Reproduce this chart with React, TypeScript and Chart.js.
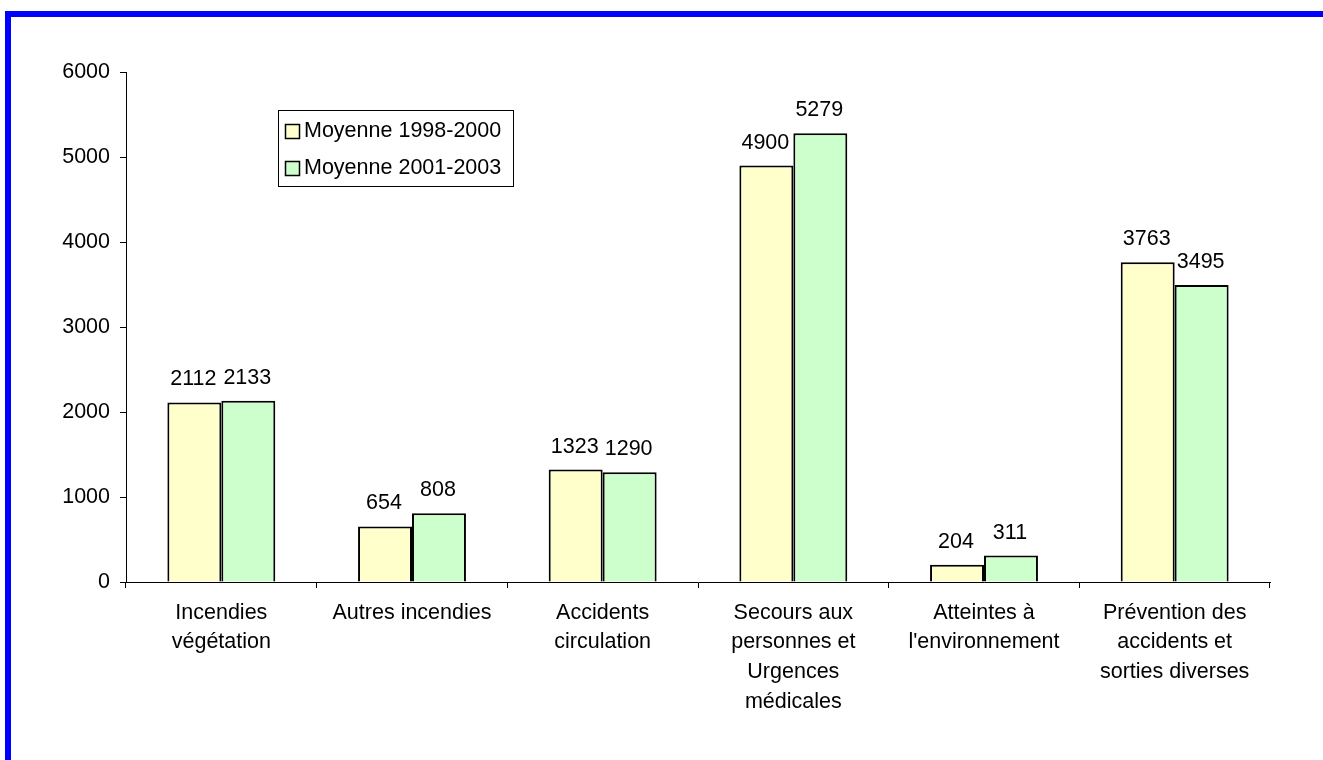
import React, { useEffect, useRef } from "react";
import { Chart, registerables } from "chart.js";

Chart.register(...registerables);

const categories: (string | string[])[] = [
  ["Incendies", "végétation"],
  "Autres incendies",
  ["Accidents", "circulation"],
  ["Secours aux", "personnes et", "Urgences", "médicales"],
  ["Atteintes à", "l'environnement"],
  ["Prévention des", "accidents et", "sorties diverses"],
];
const series1Label = "Moyenne 1998-2000";
const series2Label = "Moyenne 2001-2003";
const series1Values = [2112, 654, 1323, 4900, 204, 3763];
const series2Values = [2133, 808, 1290, 5279, 311, 3495];
const yTicks = [0, 1000, 2000, 3000, 4000, 5000, 6000];

const FONT = "'Liberation Sans', Arial, sans-serif";
const FS = 21.5;

const framePlugin = {
  id: "frame",
  beforeDraw(chart: any) {
    const ctx = chart.ctx;
    ctx.save();
    ctx.fillStyle = "#ffffff";
    ctx.fillRect(0, 0, chart.width, chart.height);
    ctx.fillStyle = "#0000FF";
    ctx.fillRect(5, 11, chart.width - 5, 6);
    ctx.fillRect(5, 11, 6, chart.height - 11);
    ctx.restore();
  },
};

const valueLabelPlugin = {
  id: "valueLabels",
  afterDatasetsDraw(chart: any) {
    const ctx = chart.ctx;
    ctx.save();
    ctx.font = `${FS}px ${FONT}`;
    ctx.fillStyle = "#000";
    ctx.textAlign = "center";
    ctx.textBaseline = "alphabetic";
    chart.data.datasets.forEach((ds: any, di: number) => {
      const meta = chart.getDatasetMeta(di);
      meta.data.forEach((bar: any, i: number) => {
        ctx.fillText(String(ds.data[i]), bar.x - 1, bar.y - 17);
      });
    });
    ctx.restore();
  },
};

const legendPlugin = {
  id: "boxLegend",
  afterDraw(chart: any) {
    const ctx = chart.ctx;
    ctx.save();
    const x = 278.5, y = 110.5, w = 235, h = 76;
    ctx.fillStyle = "#fff";
    ctx.fillRect(x, y, w, h);
    ctx.strokeStyle = "#000";
    ctx.lineWidth = 1;
    ctx.strokeRect(x, y, w, h);
    ctx.font = `${FS}px ${FONT}`;
    ctx.textBaseline = "middle";
    ctx.textAlign = "left";
    chart.data.datasets.forEach((ds: any, i: number) => {
      const cy = 130 + i * 37;
      ctx.fillStyle = ds.backgroundColor;
      ctx.fillRect(285.5, cy - 5.5, 14, 14);
      ctx.strokeStyle = "#000";
      ctx.lineWidth = 1.5;
      ctx.strokeRect(285.5, cy - 5.5, 14, 14);
      ctx.fillStyle = "#000";
      ctx.fillText(ds.label, 304, cy + 1);
    });
    ctx.restore();
  },
};

export default function App() {
  const ref = useRef<HTMLCanvasElement>(null);
  useEffect(() => {
    if (!ref.current) return;
    const chart = new Chart(ref.current, {
      type: "bar",
      data: {
        labels: categories,
        datasets: [
          {
            label: series1Label,
            data: series1Values,
            backgroundColor: "#FFFFCC",
            borderColor: "#000",
            borderWidth: 2,
            categoryPercentage: 0.566,
            barPercentage: 1,
          },
          {
            label: series2Label,
            data: series2Values,
            backgroundColor: "#CCFFCC",
            borderColor: "#000",
            borderWidth: 2,
            categoryPercentage: 0.566,
            barPercentage: 1,
          },
        ],
      },
      options: {
        responsive: false,
        animation: false,
        layout: { padding: { top: 72, left: 0, right: 53, bottom: 0 } },
        plugins: {
          legend: { display: false },
          tooltip: { enabled: false },
        },
        scales: {
          x: {
            grid: {
              offset: true,
              drawOnChartArea: false,
              drawTicks: true,
              tickLength: 6,
              color: "#000",
            },
            border: { display: true, color: "#000", width: 1 },
            ticks: {
              color: "#000",
              font: { family: FONT, size: FS, lineHeight: 1.38 },
              padding: 10,
              maxRotation: 0,
              minRotation: 0,
              autoSkip: false,
            },
            afterFit(scale: any) {
              scale.height = 178;
            },
          },
          y: {
            min: 0,
            max: 6000,
            afterBuildTicks(scale: any) {
              scale.ticks = yTicks.map((v) => ({ value: v }));
            },
            grid: {
              drawOnChartArea: false,
              drawTicks: true,
              tickLength: 6,
              color: "#000",
            },
            border: { display: true, color: "#000", width: 1 },
            ticks: {
              color: "#000",
              font: { family: FONT, size: FS },
              padding: 10,
              callback: (v: any) => String(v),
            },
            afterFit(scale: any) {
              scale.width = 126;
            },
          },
        },
      },
      plugins: [framePlugin, valueLabelPlugin, legendPlugin],
    });
    return () => chart.destroy();
  }, []);
  return (
    <div style={{ position: "fixed", left: 0, top: 0, width: 1323, height: 760, overflow: "hidden", background: "#fff" }}>
      <canvas ref={ref} width={1323} height={760} style={{ display: "block", width: 1323, height: 760 }} />
    </div>
  );
}
